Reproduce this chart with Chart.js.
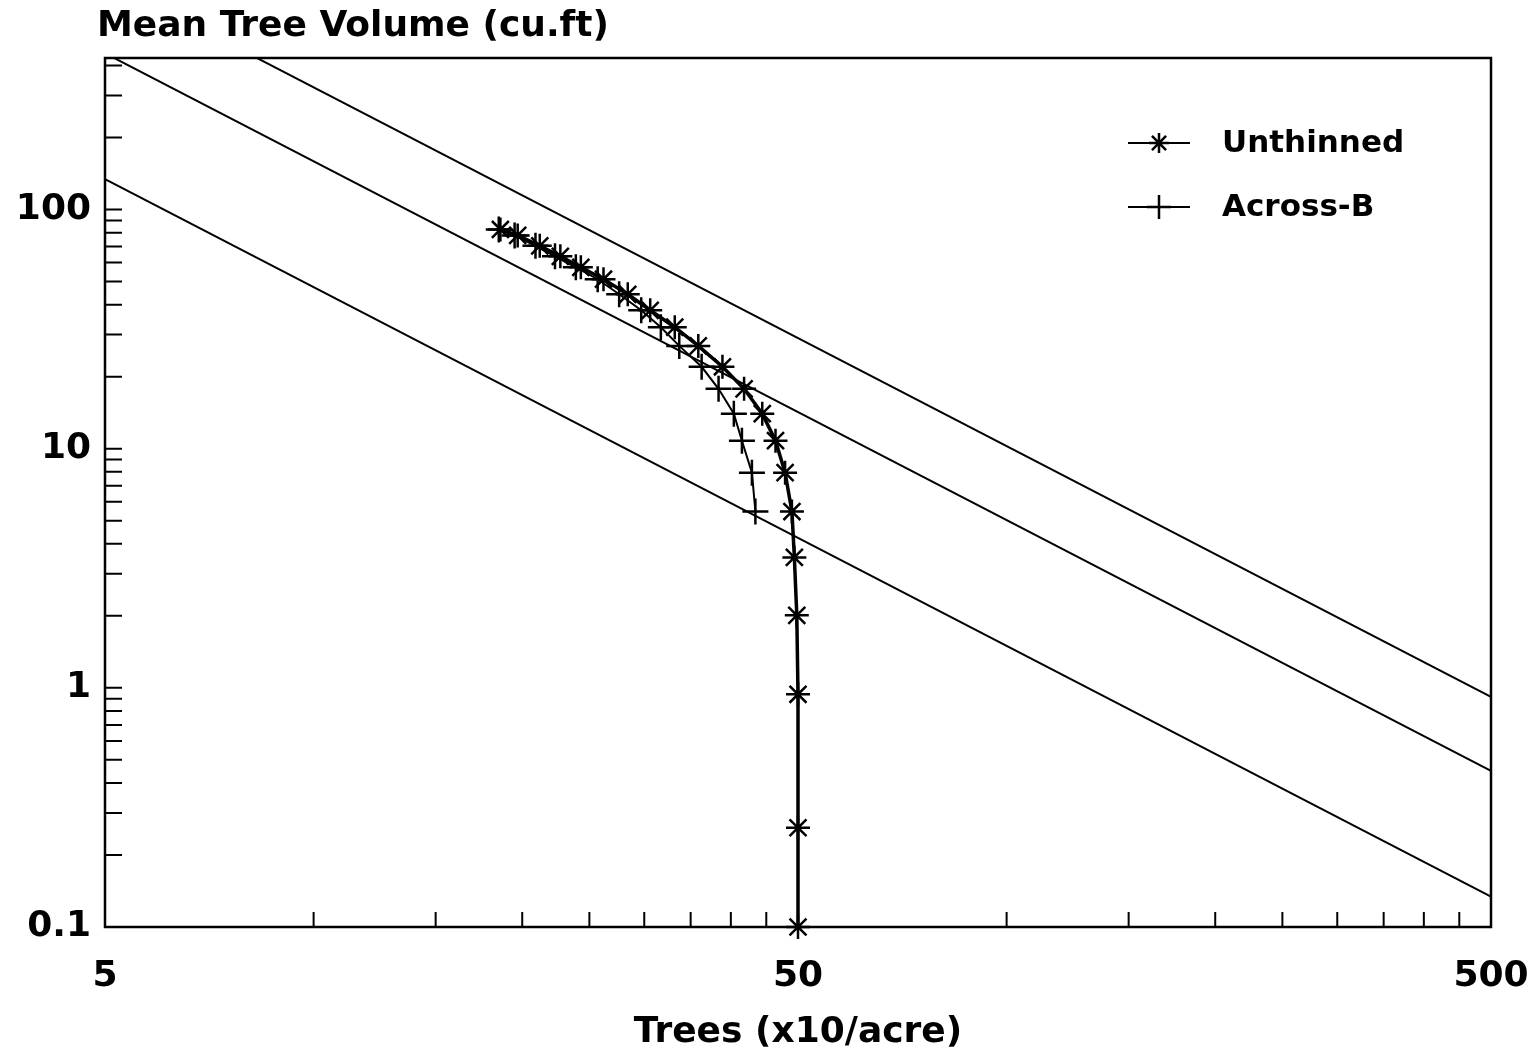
<!DOCTYPE html>
<html lang="en">
<head>
<meta charset="UTF-8">
<title>Mean Tree Volume vs Trees per Acre</title>
<script src="https://cdn.jsdelivr.net/npm/chart.js"></script>
<style>
    body {
        margin: 0;
        background: #fff;
    }
    .chart-box {
        width: 1535px;
        height: 1055px;
        position: relative;
    }
</style>
</head>
<body>
<div class="chart-box"><canvas id="treeChart"></canvas></div>
<script>
    // trees (x10/acre) and mean tree volume (cu.ft), in order of stand age
    const unthinnedTrees = [50, 50, 50, 49.8, 49.4, 49.0, 47.9, 46.4, 44.4, 41.8, 38.9, 35.9, 33.2, 30.6, 28.4, 26.2, 24.3, 22.7, 21.2, 19.7, 18.6];
    const unthinnedVolume = [0.1, 0.26, 0.94, 2.01, 3.51, 5.46, 7.94, 10.8, 14.0, 17.8, 22.0, 26.9, 32.2, 37.9, 44.2, 51.1, 57.3, 63.7, 70.5, 77.9, 82.5];
    const acrossTrees = [43.4, 42.9, 41.5, 40.4, 38.4, 36.3, 33.7, 31.7, 29.7, 27.6, 25.7, 23.9, 22.3, 20.9, 19.5, 18.5];
    const acrossVolume = [5.46, 7.94, 10.8, 14.0, 17.8, 22.0, 26.9, 32.2, 37.9, 44.2, 51.1, 57.3, 63.7, 70.5, 77.9, 82.5];

    // -3/2 power lines, volume at 5 and at 500 trees
    const lineTrees = [5, 500];
    const upperLine = [917, 0.917];
    const middleLine = [450, 0.45];
    const lowerLine = [134, 0.134];

    const xTicks = [5, 10, 15, 20, 25, 30, 35, 40, 45, 50, 100, 150, 200, 250, 300, 350, 400, 450, 500];
    const xLabels = [5, 50, 500];
    const yTicks = [0.1, 0.2, 0.3, 0.4, 0.5, 0.6, 0.7, 0.8, 0.9,
                    1, 2, 3, 4, 5, 6, 7, 8, 9,
                    10, 20, 30, 40, 50, 60, 70, 80, 90,
                    100, 200, 300, 400];
    const yLabels = [0.1, 1, 10, 100];

    const FONT = 'DejaVu Sans';

    function points(xs, ys) {
        return xs.map((x, i) => ({ x: x, y: ys[i] }));
    }

    function refLine(values) {
        return {
            data: points(lineTrees, values),
            borderColor: '#000',
            borderWidth: 2,
            pointRadius: 0,
            showLine: true,
            clip: 0
        };
    }

    // frame, inward tick marks, y title and legend
    const decorations = {
        id: 'decorations',
        afterDraw(chart) {
            const ctx = chart.ctx;
            const area = chart.chartArea;
            const xs = chart.scales.x;
            const ys = chart.scales.y;
            ctx.save();
            ctx.strokeStyle = '#000';
            ctx.lineWidth = 2.5;
            ctx.strokeRect(area.left, area.top, area.right - area.left, area.bottom - area.top);

            ctx.lineWidth = 2;
            ctx.beginPath();
            xTicks.forEach(v => {
                const px = xs.getPixelForValue(v);
                ctx.moveTo(px, area.bottom);
                ctx.lineTo(px, area.bottom - 15);
            });
            yTicks.forEach(v => {
                const py = ys.getPixelForValue(v);
                ctx.moveTo(area.left, py);
                ctx.lineTo(area.left + 17, py);
            });
            ctx.stroke();

            ctx.fillStyle = '#000';
            ctx.font = 'bold 36px "' + FONT + '"';
            ctx.textBaseline = 'middle';
            ctx.textAlign = 'left';
            ctx.fillText('Mean Tree Volume (cu.ft)', 97, 27);

            const rows = [
                { text: 'Unthinned', style: 'star', radius: 10, y: 143 },
                { text: 'Across-B', style: 'cross', radius: 12, y: 207 }
            ];
            ctx.font = 'bold 31px "' + FONT + '"';
            rows.forEach(r => {
                ctx.lineWidth = 2;
                ctx.beginPath();
                ctx.moveTo(1128, r.y);
                ctx.lineTo(1190, r.y);
                ctx.stroke();
                ctx.lineWidth = 2.5;
                Chart.helpers.drawPoint(ctx, { pointStyle: r.style, radius: r.radius, rotation: 0, borderWidth: 2.5 }, 1159, r.y);
                ctx.fillText(r.text, 1222, r.y + 1);
            });
            ctx.restore();
        }
    };

    const ctx = document.getElementById('treeChart').getContext('2d');
    const chart = new Chart(ctx, {
        type: 'scatter',
        data: {
            datasets: [
                {
                    label: 'Unthinned',
                    data: points(unthinnedTrees, unthinnedVolume),
                    showLine: true,
                    borderColor: '#000',
                    borderWidth: 3.5,
                    pointStyle: 'star',
                    pointRadius: 12,
                    pointBorderWidth: 2.5,
                    pointBorderColor: '#000',
                    clip: false
                },
                {
                    label: 'Across-B',
                    data: points(acrossTrees, acrossVolume),
                    showLine: true,
                    borderColor: '#000',
                    borderWidth: 2,
                    pointStyle: 'cross',
                    pointRadius: 13,
                    pointBorderWidth: 2.5,
                    pointBorderColor: '#000',
                    clip: false
                },
                refLine(upperLine),
                refLine(middleLine),
                refLine(lowerLine)
            ]
        },
        options: {
            responsive: true,
            maintainAspectRatio: false,
            animation: false,
            layout: { padding: { top: 58, right: 44, left: 0, bottom: 0 } },
            plugins: {
                legend: { display: false },
                tooltip: { enabled: false }
            },
            scales: {
                x: {
                    type: 'logarithmic',
                    min: 5,
                    max: 500,
                    afterBuildTicks: s => { s.ticks = xTicks.map(v => ({ value: v })); },
                    afterFit: s => {
                        s.height = 128;
                        s.paddingLeft = 0;
                        s.paddingRight = 0;
                    },
                    grid: { display: false, drawTicks: false },
                    border: { display: false },
                    ticks: {
                        autoSkip: false,
                        maxRotation: 0,
                        padding: 28,
                        color: '#000',
                        font: { family: FONT, size: 36, weight: 'bold' },
                        callback: v => xLabels.includes(v) ? String(v) : ''
                    },
                    title: {
                        display: true,
                        text: 'Trees (x10/acre)',
                        color: '#000',
                        font: { family: FONT, size: 36, weight: 'bold', lineHeight: 1.2 },
                        padding: { top: 0, bottom: 1 }
                    }
                },
                y: {
                    type: 'logarithmic',
                    min: 0.1,
                    max: 430,
                    afterBuildTicks: s => { s.ticks = yTicks.map(v => ({ value: v })); },
                    afterFit: s => { s.width = 105; },
                    grid: { display: false, drawTicks: false },
                    border: { display: false },
                    ticks: {
                        autoSkip: false,
                        padding: 14,
                        color: '#000',
                        font: { family: FONT, size: 36, weight: 'bold' },
                        callback: v => yLabels.includes(v) ? String(v) : ''
                    }
                }
            }
        },
        plugins: [decorations]
    });
</script>
</body>
</html>
